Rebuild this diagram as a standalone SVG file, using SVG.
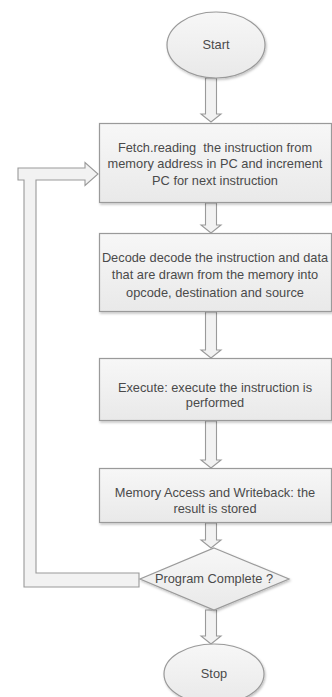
<svg xmlns="http://www.w3.org/2000/svg" width="332" height="697" viewBox="0 0 332 697">
<defs>
<linearGradient id="g" x1="0" y1="0" x2="0" y2="1">
<stop offset="0" stop-color="#f7f7f7"/>
<stop offset="1" stop-color="#e9e9e9"/>
</linearGradient>
<filter id="sh" x="-10%" y="-10%" width="130%" height="130%">
<feDropShadow dx="1" dy="1.5" stdDeviation="0.8" flood-color="#000" flood-opacity="0.25"/>
</filter>
</defs>
<style>
.n{fill:url(#g);stroke:#9a9a9a;stroke-width:1.2;filter:url(#sh)}
.a{fill:#f2f2f2;stroke:#9a9a9a;stroke-width:1.1;stroke-linejoin:miter}
text{font-family:"Liberation Sans",Arial,sans-serif;font-size:12.8px;fill:#4a4a4a;text-anchor:middle}
</style>
<rect width="332" height="697" fill="#ffffff"/>
<g id="connectors">
<polygon class="a" points="205.5,78 216.5,78 216.5,114 221,114 211,122 201,114 205.5,114"/>
<polygon class="a" points="205.5,203 216.5,203 216.5,225 221,225 211,233 201,225 205.5,225"/>
<polygon class="a" points="205.5,312 216.5,312 216.5,350 221,350 211,358 201,350 205.5,350"/>
<polygon class="a" points="205.5,421 216.5,421 216.5,460 221,460 211,468 201,460 205.5,460"/>
<polygon class="a" points="205.5,523 216.5,523 216.5,540 221,540 211,548 201,540 205.5,540"/>
<polygon class="a" points="205.5,610 216.5,610 216.5,636 221,636 211,644 201,636 205.5,636"/>
<polygon class="a" points="18,168 85,168 85,162.5 98,174 85,185.5 85,180 36,180 36,573 139,573 139,587 24,587 24,180 18,180"/>
</g>
<g id="start">
<ellipse class="n" cx="216" cy="45" rx="49" ry="33"/>
<text x="216" y="49">Start</text>
</g>
<g id="fetch">
<rect class="n" x="99.5" y="123.5" width="232" height="79"/>
<text x="215" y="151.5" xml:space="preserve">Fetch.reading  the instruction from</text>
<text x="215" y="167.5">memory address in PC and increment</text>
<text x="215" y="184.5">PC for next instruction</text>
</g>
<g id="decode">
<rect class="n" x="99.5" y="233.5" width="232" height="78"/>
<text x="215" y="261.5">Decode decode the instruction and data</text>
<text x="215" y="279">that are drawn from the memory into</text>
<text x="215" y="296.5">opcode, destination and source</text>
</g>
<g id="execute">
<rect class="n" x="99.5" y="358.5" width="232" height="62"/>
<text x="215" y="391.5">Execute: execute the instruction is</text>
<text x="215" y="407">performed</text>
</g>
<g id="memory">
<rect class="n" x="99.5" y="468.5" width="232" height="54"/>
<text x="215" y="496.5">Memory Access and Writeback: the</text>
<text x="215" y="512.5">result is stored</text>
</g>
<g id="decision">
<polygon class="n" points="214,548 289,579 214,610 140,579"/>
<text x="214" y="583">Program Complete ?</text>
</g>
<g id="stop">
<ellipse class="n" cx="214" cy="674" rx="50" ry="30"/>
<text x="214" y="678">Stop</text>
</g>
</svg>
